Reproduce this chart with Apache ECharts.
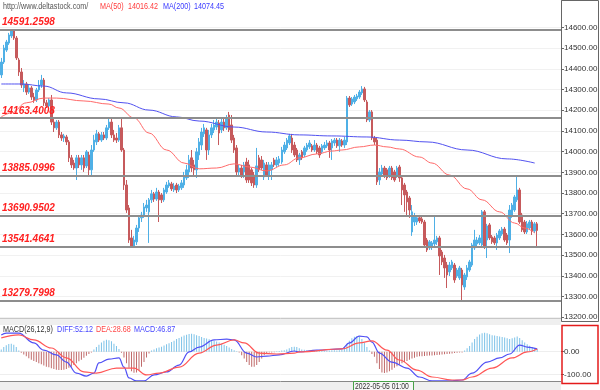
<!DOCTYPE html>
<html><head><meta charset="utf-8">
<script src="https://cdn.jsdelivr.net/npm/echarts@6/dist/echarts.min.js"></script>
<style>html,body{margin:0;padding:0;background:#fff}#c{width:600px;height:390px}</style>
</head><body><div id="c"></div>
<script>
// ---- data ----
const priceTicks = [13200,13300,13400,13500,13600,13700,13800,13900,14000,14100,14200,14300,14400,14500,14600];
const macdTicks = [0,-100];
const levels = [14591.2598,14163.4008,13885.0996,13690.9502,13541.4641,13279.7998];
const lastPrice = 13619.39;
const headerSite = 'http://www.deltastock.com/';
const ma50Value = '14016.42';
const ma200Value = '14074.45';
const diffValue = '52.12', deaValue = '28.68', macdValue = '46.87';
const cursorTime = '2022-05-05 01:00';
// [open, close, low, high]
const candles = [
[14371,14433,14356,14453],[14433,14501,14424,14516],[14491,14530,14482,14540],[14525,14564,14516,14574],
[14559,14588,14549,14591.26],[14588,14549,14540,14590],[14549,14453,14443,14559],[14443,14385,14366,14453],
[14385,14322,14308,14404],[14308,14327,14288,14346],[14327,14288,14274,14337],[14288,14308,14279,14322],
[14308,14264,14250,14317],[14264,14250,14236,14284],[14250,14298,14240,14308],[14298,14322,14288,14346],
[14322,14346,14308,14371],[14346,14236,14221,14356],[14236,14221,14211,14250],[14221,14250,14211,14259],
[14250,14143,14129,14274],[14143,14115,14095,14163],[14115,14143,14105,14153],[14143,14081,14066,14153],
[14081,14066,14052,14095],[14066,14076,14047,14086],[14071,14047,14032,14081],[14047,13970,13950,14056],
[13970,13936,13921,13984],[13945,13921,13912,13960],[13921,13970,13863,13984],[13970,13936,13921,13984],
[13936,13970,13912,13984],[13970,13921,13902,13984],[13931,13999,13921,14008],[13984,13912,13887,13999],
[13912,14008,13887,14032],[14008,14056,13999,14081],[14047,14086,14032,14105],[14086,14056,14047,14095],
[14056,14081,14047,14095],[14081,14066,14056,14095],[14066,14115,14056,14129],[14115,14143,14105,14163],
[14143,14081,14066,14163],[14081,14056,14047,14105],[14066,14056,14042,14090],[14056,14115,14047,14129],
[14115,14008,13999,14163],[14008,13839,13815,14018],[13839,13718,13704,13863],[13728,13573,13559,13742],
[13583,13544,13541.46,13622],[13544,13573,13541.46,13593],[13564,13631,13549,13646],[13631,13680,13612,13694],
[13680,13694,13660,13709],[13694,13733,13680,13752],[13728,13742,13709,13767],[13709,13767,13559,13776],
[13767,13796,13752,13815],[13796,13771,13757,13805],[13771,13805,13762,13825],[13805,13767,13660,13815],
[13791,13767,13752,13800],[13767,13815,13757,13825],[13805,13839,13796,13854],[13834,13849,13825,13863],
[13844,13820,13810,13854],[13815,13834,13805,13849],[13839,13815,13800,13849],[13815,13834,13805,13844],
[13825,13849,13815,13863],[13839,13883,13825,13902],[13873,13912,13863,13936],[13902,13960,13873,13984],
[13970,13921,13902,14008],[13936,13912,13887,13960],[13912,13999,13873,14018],[13984,14047,13960,14066],
[14032,14095,14008,14115],[14086,14115,14071,14134],[14105,14008,13960,14115],[14008,14081,13984,14105],
[14081,14115,14066,14134],[14105,14129,14090,14153],[14119,14143,14105,14163],[14139,14090,14032,14153],
[14105,14143,14090,14163],[14143,14115,14100,14163],[14115,14163,14105,14177],[14177,14105,14095,14192],
[14129,14056,14042,14177],[14066,14008,13994,14081],[14018,13902,13887,14032],[13902,13921,13883,13936],
[13921,13887,13873,13936],[13902,13936,13873,13950],[13950,13863,13849,13970],[13936,13863,13849,13960],
[13912,13849,13834,13921],[13887,13839,13825,13902],[13839,13931,13825,14018],[13970,13912,13902,13984],
[13960,13921,13912,13979],[13878,13945,13863,13960],[13936,13887,13878,13950],[13887,13936,13863,13950],
[13912,13936,13863,13950],[13960,13936,13926,13970],[13936,13960,13926,13974],[13945,13965,13931,13979],
[13950,14008,13941,14023],[13999,14032,13989,14047],[14018,14056,14008,14066],[14042,14076,14032,14086],
[14066,14008,13994,14086],[14032,13984,13974,14047],[14008,13960,13950,14018],[13960,13984,13936,13994],
[13999,13970,13960,14008],[13984,14018,13974,14028],[14008,14032,13999,14042],[14023,14042,14013,14056],
[14028,14008,13999,14037],[14008,14032,13999,14056],[14032,13999,13989,14042],[14018,13984,13970,14028],
[13999,14028,13989,14037],[14018,14032,14008,14047],[14028,14042,14018,14056],[14042,14008,13970,14052],
[14018,14052,13960,14061],[14042,14056,14028,14066],[14056,14028,14018,14066],[14028,14056,13999,14066],
[14052,14032,14023,14061],[14032,14056,14018,14071],[14047,14259,14032,14269],[14259,14226,14216,14269],
[14230,14255,14221,14264],[14240,14264,14230,14274],[14255,14269,14245,14279],[14264,14288,14255,14298],
[14284,14303,14274,14317],[14303,14250,14240,14313],[14240,14153,14143,14250],[14153,14192,14143,14201],
[14192,14066,14056,14201],[14066,14047,14032,14076],[14056,13854,13839,14066],[13863,13902,13839,13921],
[13892,13921,13883,13936],[13921,13887,13873,13931],[13912,13873,13863,13921],[13883,13921,13873,13931],
[13921,13873,13863,13931],[13902,13863,13854,13912],[13883,13921,13873,13931],[13926,13873,13854,13936],
[13873,13815,13742,13883],[13839,13791,13709,13849],[13805,13757,13694,13815],[13776,13718,13680,13786],
[13612,13709,13593,13742],[13660,13689,13641,13704],[13660,13680,13646,13694],[13680,13665,13655,13694],
[13675,13660,13651,13685],[13660,13549,13535,13670],[13573,13525,13515,13583],[13535,13564,13525,13573],
[13544,13559,13525,13568],[13554,13573,13544,13694],[13564,13583,13549,13593],[13583,13496,13404,13593],
[13515,13467,13452,13525],[13486,13438,13390,13501],[13452,13404,13341,13467],[13419,13452,13399,13467],
[13438,13467,13428,13477],[13452,13380,13366,13462],[13399,13428,13390,13438],[13390,13438,13380,13448],
[13428,13356,13279.80,13438],[13346,13404,13332,13414],[13395,13438,13380,13452],[13428,13467,13419,13477],
[13452,13549,13443,13559],[13535,13573,13525,13622],[13554,13573,13544,13588],[13559,13583,13549,13597],
[13549,13709,13538,13718],[13709,13544,13530,13718],[13573,13641,13486,13651],[13646,13583,13573,13655],
[13588,13564,13554,13597],[13583,13559,13549,13593],[13559,13597,13525,13607],[13583,13617,13573,13626],
[13602,13626,13593,13636],[13626,13573,13564,13636],[13597,13559,13549,13607],[13573,13718,13510,13742],
[13694,13742,13680,13752],[13718,13781,13709,13791],[13767,13815,13757,13878],[13815,13660,13651,13825],
[13694,13622,13612,13704],[13660,13612,13602,13670],[13612,13651,13602,13665],[13631,13660,13622,13670],
[13660,13617,13597,13670],[13617,13651,13607,13660],[13651,13619.39,13541,13660]
];
// moving averages, sampled along the curve: [candle index, value]
const ma50 = [[0,14168],[4,14187],[10,14236],[17,14259],[22,14259],[33,14245],[43,14230],[47,14211],[53,14163],[59,14090],[66,14008],[73,13945],[79,13917],[86,13921],[93,13941],[99,13926],[106,13907],[113,13936],[119,13970],[126,13989],[132,14003],[136,14008],[143,14023],[149,14032],[154,14023],[159,14013],[167,13974],[172,13945],[179,13887],[186,13820],[192,13767],[199,13709],[205,13655],[209,13631],[213,13607]];
const ma200 = [[0,14327],[8,14327],[17,14317],[26,14284],[39,14255],[49,14236],[59,14201],[70,14168],[79,14148],[93,14119],[106,14095],[119,14081],[132,14076],[146,14071],[159,14056],[170,14047],[186,14008],[202,13965],[213,13945]];
const diffLine = [[0,73],[2,81],[7,81],[13,38],[17,7],[22,-14],[26,-45],[30,-93],[34,-106],[37,-93],[39,-49],[43,-32],[47,-27],[49,-67],[51,-114],[54,-127],[57,-127],[61,-101],[66,-88],[71,-58],[75,-1],[79,20],[85,51],[90,55],[93,51],[98,-6],[102,-23],[106,-19],[111,-14],[117,3],[119,-1],[126,7],[136,12],[139,38],[143,68],[146,64],[148,42],[151,-6],[156,-45],[162,-71],[167,-110],[172,-127],[180,-127],[184,-123],[188,-93],[194,-45],[199,-27],[203,-10],[207,29],[210,20],[214,12]];
const deaLine = [[0,60],[7,73],[13,51],[20,16],[26,-27],[33,-88],[38,-93],[46,-71],[53,-71],[58,-101],[63,-93],[71,-67],[79,-6],[86,29],[93,51],[97,38],[103,-6],[110,-10],[117,-6],[119,-1],[136,12],[143,38],[148,47],[154,7],[159,-36],[166,-80],[172,-110],[180,-123],[184,-123],[188,-110],[196,-71],[204,-27],[210,-1],[214,12]];
const macdHist = [
10,20,28,33,35,30,20,5,
-5,-12,-20,-28,-35,-40,-45,-50,-55,-60,-65,-68,-72,-75,-78,-80,-80,-78,-75,-70,-65,-58,-50,-42,-35,-26,-18,-10,
-3,10,20,30,40,48,52,50,45,35,25,12,-5,
-25,-50,-70,-85,-92,-90,-80,-65,-45,-25,-8,
5,10,15,18,22,27,32,37,42,48,55,60,65,70,74,77,78,76,72,68,64,60,57,54,51,48,44,40,35,30,25,18,12,6,
2,-3,-15,-30,-45,-58,-65,-65,-58,-45,-30,-15,
-6,-4,-3,-2,2,3,5,6,10,15,20,22,20,15,
10,8,6,5,5,4,4,5,5,4,4,5,6,6,5,6,8,
20,35,48,58,65,68,66,55,40,20,5,-10,
-22,-50,-75,-90,-93,-90,-85,-78,-70,-63,-57,-50,-45,-40,-35,-30,-26,-22,-20,
-20,-19,-18,-17,-16,-15,-14,-13,-12,-11,-10,-9,-8,-6,-5,-4,-3,
5,15,25,40,55,65,75,80,82,80,76,72,70,68,66,64,62,58,55,58,62,66,60,50,40,32,26,20,15,12
];
// ---- chart ----
const SLOTS = 224;
const slots = Array.from({length: SLOTS}, (_, i) => String(i));
const SANS = 'Liberation Sans';
const UP = '#4fb0e6', DOWN = '#c65a5c';
const chart = echarts.init(document.getElementById('c'), null, {renderer: 'canvas'});
const txt = (x, y, t, color, size) => ({type: 'text', x, y, z: 100, scaleX: 0.8,
  style: {text: t, fill: color, font: (size || 9) + 'px "Liberation Sans", Arial, sans-serif', textVerticalAlign: 'middle'}});
chart.setOption({
  animation: false,
  backgroundColor: '#ffffff',
  grid: [
    {left: 0, top: 1, width: 561, height: 317, outerBoundsMode: 'none', containLabel: false},
    {left: 0, top: 326, width: 561, height: 56, outerBoundsMode: 'none', containLabel: false}
  ],
  xAxis: [
    {type: 'category', gridIndex: 0, data: slots, show: false},
    {type: 'category', gridIndex: 1, data: slots, show: false}
  ],
  yAxis: [
    {type: 'value', gridIndex: 0, position: 'right', min: 13196.1, max: 14728.1, scale: true,
     axisLine: {show: true, lineStyle: {color: '#555'}},
     axisTick: {show: true, length: 3, customValues: priceTicks, lineStyle: {color: '#666'}},
     axisLabel: {customValues: priceTicks, formatter: v => v.toFixed(2), fontSize: 8, color: '#333', margin: 3, fontFamily: SANS},
     splitLine: {show: true, lineStyle: {color: '#f1f1f1'}}},
    {type: 'value', gridIndex: 1, position: 'right', min: -131.7, max: 111.7,
     axisLine: {show: false},
     axisTick: {show: true, length: 3, customValues: macdTicks, lineStyle: {color: '#666'}},
     axisLabel: {customValues: macdTicks, formatter: v => v.toFixed(2), fontSize: 8, color: '#333', margin: 3, fontFamily: SANS},
     splitLine: {show: true, lineStyle: {color: '#eeeeee'}}}
  ],
  series: [
    {type: 'candlestick', xAxisIndex: 0, yAxisIndex: 0, data: candles, barWidth: 2,
     itemStyle: {color: UP, color0: DOWN, borderColor: UP, borderColor0: DOWN, borderWidth: 1},
     markLine: {silent: true, symbol: 'none', animation: false, precision: 4,
       data: levels.map(v => ({yAxis: v}))
         .concat([{yAxis: lastPrice, lineStyle: {opacity: 0},
           label: {position: 'end', distance: 1, formatter: () => lastPrice.toFixed(2), color: '#fff', fontStyle: 'normal', fontWeight: 'normal',
                   fontSize: 8, fontFamily: SANS, backgroundColor: '#de7470', borderColor: '#c04848', borderWidth: 1, padding: [2, 2, 1, 2], width: 31}}]),
       lineStyle: {color: '#8d8d8d', width: 2, type: 'solid'},
       label: {position: 'insideStartTop', distance: 2, formatter: p => levels[p.dataIndex].toFixed(4), color: '#ff2020',
               fontStyle: 'italic', fontWeight: 'bold', fontSize: 10, fontFamily: SANS}}},
    {type: 'line', xAxisIndex: 0, yAxisIndex: 0, data: ma50, smooth: 0.4, smoothMonotone: 'x', symbol: 'none',
     lineStyle: {color: '#ff6a6a', width: 1}},
    {type: 'line', xAxisIndex: 0, yAxisIndex: 0, data: ma200, smooth: 0.4, smoothMonotone: 'x', symbol: 'none',
     lineStyle: {color: '#5252f0', width: 1}},
    {type: 'bar', xAxisIndex: 1, yAxisIndex: 1, data: macdHist, barWidth: 1,
     itemStyle: {color: p => p.value >= 0 ? '#7cc2e8' : '#c06a6a'}},
    {type: 'line', xAxisIndex: 1, yAxisIndex: 1, data: diffLine, smooth: 0.4, smoothMonotone: 'x', symbol: 'none',
     lineStyle: {color: '#5050f5', width: 1.2}},
    {type: 'line', xAxisIndex: 1, yAxisIndex: 1, data: deaLine, smooth: 0.4, smoothMonotone: 'x', symbol: 'none',
     lineStyle: {color: '#ff5656', width: 1.2}}
  ],
  graphic: [
    {type: 'rect', z: 50, shape: {x: 561.5, y: 0.5, width: 37, height: 321}, style: {fill: null, stroke: '#666', lineWidth: 1}},
    {type: 'rect', z: 50, shape: {x: 0, y: 318, width: 561, height: 7}, style: {fill: '#efefef', stroke: null}},
    {type: 'line', z: 51, shape: {x1: 0, y1: 318.5, x2: 561, y2: 318.5}, style: {stroke: '#c8c8c8', lineWidth: 1}},
    {type: 'rect', z: 50, shape: {x: 562, y: 325.5, width: 36, height: 58}, style: {fill: null, stroke: '#e41b1b', lineWidth: 1.5}},
    {type: 'rect', z: 50, shape: {x: 0, y: 382, width: 561, height: 8}, style: {fill: '#efefef', stroke: null}},
    {type: 'line', z: 51, shape: {x1: 0, y1: 381.5, x2: 561, y2: 381.5}, style: {stroke: '#888', lineWidth: 1}},
    {type: 'rect', z: 52, shape: {x: 353.5, y: 381.5, width: 60, height: 10}, style: {fill: '#f7f7f7', stroke: '#48a048', lineWidth: 1}},
    txt(355, 387, cursorTime, '#333', 8.5),
    txt(3, 7, headerSite, '#555'),
    txt(100, 7, 'MA(50)', '#ff3b3b'),
    txt(128, 7, ma50Value, '#ff3b3b'),
    txt(163, 7, 'MA(200)', '#3a3aff'),
    txt(194, 7, ma200Value, '#3a3aff'),
    txt(3, 330, 'MACD(26,12,9)', '#333'),
    txt(57, 330, 'DIFF:' + diffValue, '#4646ff'),
    txt(96, 330, 'DEA:' + deaValue, '#ff4646'),
    txt(134, 330, 'MACD:' + macdValue, '#4646ff')
  ]
});
</script></body></html>
